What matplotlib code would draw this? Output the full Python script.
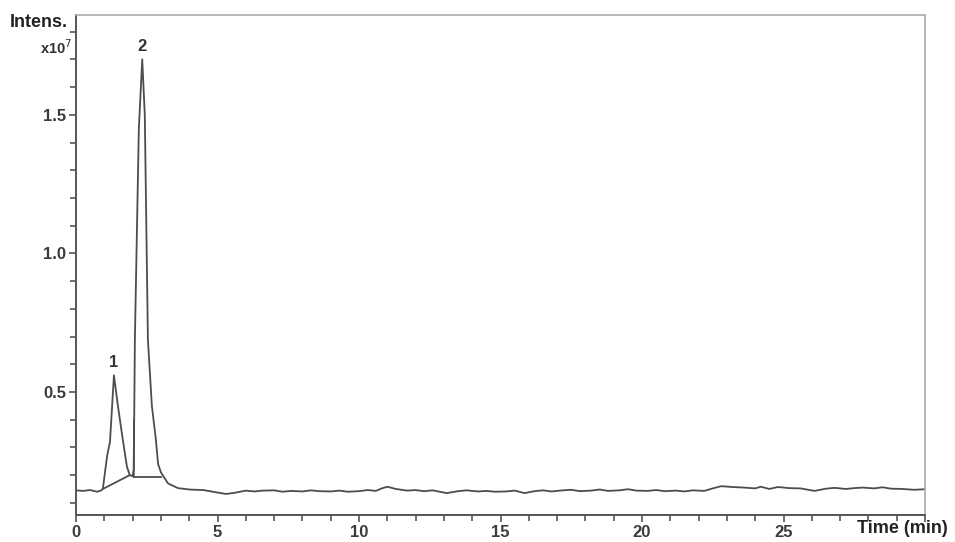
import numpy as np
import matplotlib
matplotlib.use("Agg")
import matplotlib.pyplot as plt
from matplotlib.ticker import MultipleLocator, FixedLocator

plt.rcParams['font.family'] = ['Liberation Sans', 'DejaVu Sans']

# chromatogram trace: time (min) and intensity (x1e7)
time_peaks = [0.0, 0.25, 0.5, 0.75, 0.9, 0.95, 1.1, 1.2, 1.34, 1.48, 1.65, 1.8, 1.9,
              2.0, 2.04, 2.08, 2.22, 2.34, 2.43, 2.54, 2.68, 2.82, 2.9, 3.0, 3.25,
              3.6, 4.0, 4.5]
int_peaks = [0.145, 0.143, 0.146, 0.140, 0.145, 0.152, 0.27, 0.32, 0.56, 0.45, 0.33,
             0.23, 0.20, 0.196, 0.22, 0.69, 1.45, 1.70, 1.50, 0.69, 0.45, 0.33, 0.24,
             0.21, 0.17, 0.153, 0.148, 0.146]

time_base = [5.0, 5.3, 5.6, 6.0, 6.3, 6.6, 7.0, 7.3, 7.6, 8.0, 8.3, 8.6, 9.0, 9.3,
             9.6, 10.0, 10.3, 10.6, 10.8, 11.0, 11.3, 11.7, 12.0, 12.3, 12.6, 13.1,
             13.5, 13.8, 14.2, 14.5, 14.8, 15.2, 15.5, 15.85, 16.2, 16.5, 16.8, 17.2,
             17.5, 17.8, 18.2, 18.5, 18.8, 19.2, 19.5, 19.8, 20.2, 20.5, 20.8, 21.2,
             21.5, 21.8, 22.2, 22.5, 22.8, 23.2, 23.6, 24.0, 24.2, 24.5, 24.8, 25.2,
             25.6, 26.1, 26.5, 26.8, 27.2, 27.5, 27.8, 28.2, 28.5, 28.8, 29.2, 29.6,
             30.0]
int_base = [0.137, 0.132, 0.136, 0.144, 0.141, 0.144, 0.145, 0.140, 0.143, 0.141,
            0.145, 0.142, 0.141, 0.144, 0.140, 0.142, 0.146, 0.143, 0.152, 0.158,
            0.150, 0.144, 0.146, 0.142, 0.145, 0.135, 0.142, 0.145, 0.141, 0.143,
            0.140, 0.141, 0.144, 0.135, 0.142, 0.145, 0.141, 0.145, 0.147, 0.142,
            0.144, 0.148, 0.143, 0.145, 0.149, 0.144, 0.143, 0.146, 0.142, 0.144,
            0.141, 0.145, 0.143, 0.152, 0.160, 0.157, 0.155, 0.152, 0.158, 0.150,
            0.157, 0.153, 0.152, 0.143, 0.151, 0.154, 0.150, 0.153, 0.155, 0.152,
            0.156, 0.151, 0.150, 0.147, 0.149]

# integration baselines and peak labels
base1_t = [0.95, 1.9]
base1_v = [0.150, 0.200]
base2_t = [2.04, 3.0]
base2_v = [0.194, 0.194]
drop2_t = [2.04, 2.05]
drop2_v = [0.194, 0.40]
peak_labels = ['1', '2']
peak_lab_t = [1.34, 2.33]
peak_lab_v = [0.58, 1.72]

t = time_peaks + time_base
v = int_peaks + int_base

fig = plt.figure(figsize=(9.55, 5.42), dpi=100)
ax = fig.add_axes([0.0796, 0.0498, 0.889, 0.9225])

lc = '#4d4d4d'
ax.plot(t, v, color=lc, lw=1.3)
ax.plot(base1_t, base1_v, color=lc, lw=1.3)
ax.plot(base2_t, base2_v, color=lc, lw=1.3)
ax.plot(drop2_t, drop2_v, color=lc, lw=1.3)
for lab, xt, yv in zip(peak_labels, peak_lab_t, peak_lab_v):
    ax.text(xt, yv, lab, ha='center', va='bottom', fontsize=12, fontweight='bold',
            color='#333333')

ax.set_xlim(0, 30)
ax.set_ylim(0.056, 1.86)

ax.yaxis.set_major_locator(FixedLocator([0.5, 1.0, 1.5]))
ax.yaxis.set_minor_locator(FixedLocator([0.1, 0.2, 0.3, 0.4, 0.6, 0.7, 0.8, 0.9,
                                         1.1, 1.2, 1.3, 1.4, 1.6, 1.7, 1.8]))
ax.xaxis.set_minor_locator(MultipleLocator(1))
ax.set_xticks([0, 5, 10, 15, 20, 25, 30])
ax.set_xticklabels(['0', '5', '10', '15', '20', '25', ''])
ax.set_yticklabels(['0.5', '1.0', '1.5'])

ax.tick_params(which='major', direction='out', length=5, width=1.2, color='#555555',
               labelsize=12, labelcolor='#3a3a3a', pad=2)
ax.tick_params(which='minor', direction='out', length=4, width=1.2, color='#555555')
for lbl in ax.get_xticklabels() + ax.get_yticklabels():
    lbl.set_fontweight('bold')

for s in ['left', 'bottom']:
    ax.spines[s].set_color('#555555')
    ax.spines[s].set_linewidth(1.4)
for s in ['top', 'right']:
    ax.spines[s].set_color('#aaaaaa')
    ax.spines[s].set_linewidth(1.2)

fig.text(0.010, 0.975, 'Intens.', fontsize=13, fontweight='bold', color='#222222',
         ha='left', va='top')
fig.text(0.076, 0.929, r'x10$^7$', fontsize=10.5, fontweight='bold', color='#333333',
         ha='right', va='top')
fig.text(0.992, 0.010, 'Time (min)', fontsize=13, fontweight='bold', color='#222222',
         ha='right', va='bottom')

fig.savefig('out.png', dpi=100)
